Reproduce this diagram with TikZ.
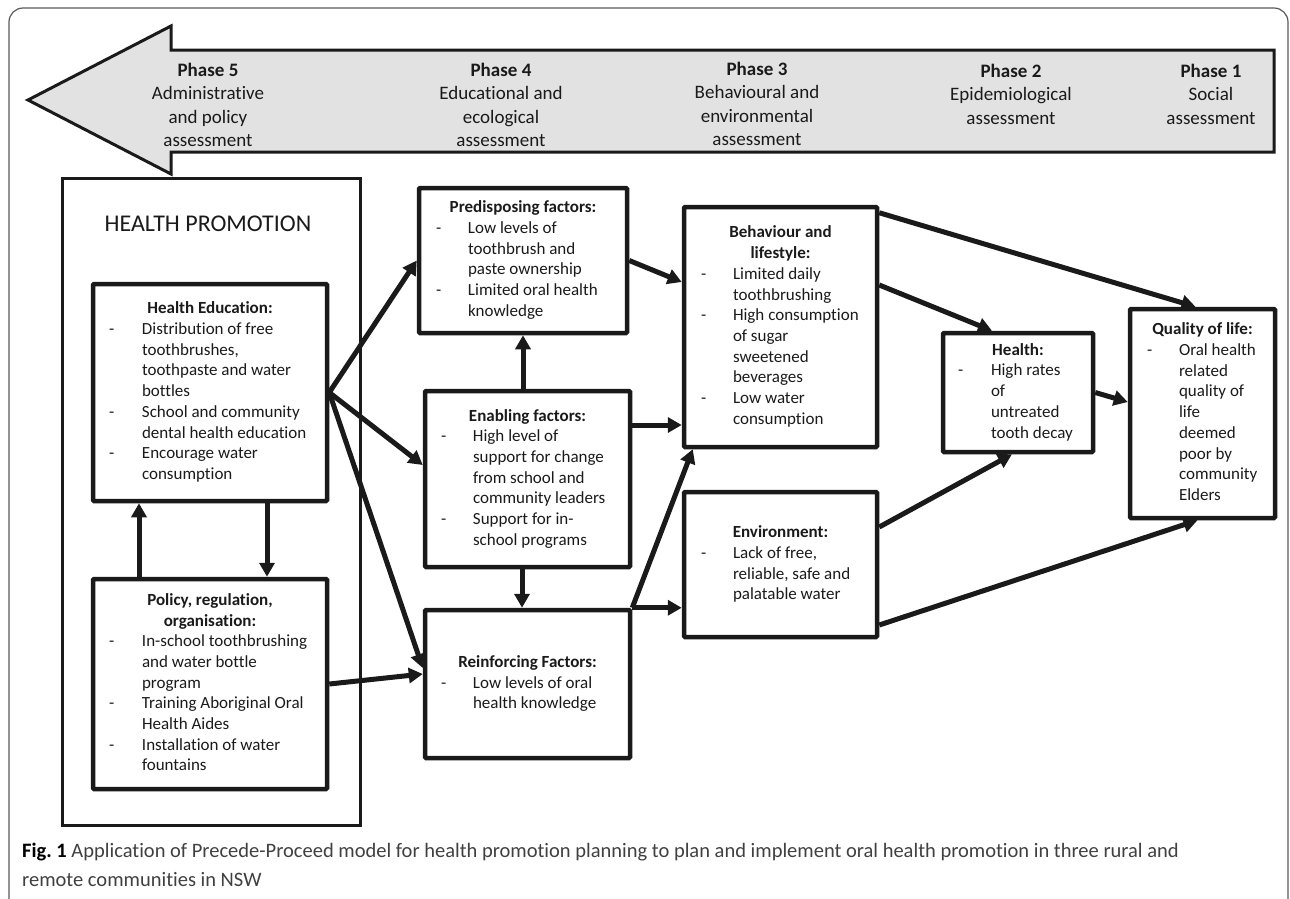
\documentclass[tikz,border=0pt]{standalone}
\usepackage{fontspec}
\setmainfont{Carlito}[Ligatures=NoCommon]
\usetikzlibrary{arrows.meta,calc}
\definecolor{arrfill}{RGB}{226,226,226}
\definecolor{ink}{RGB}{26,26,26}
\newcommand\bt[4]{\begin{tabular}{@{\hspace{#1}}p{#2}@{}p{\dimexpr#3-#1-#2\relax}@{}}#4\end{tabular}}
\begin{document}
\begin{tikzpicture}[x=1pt,y=-1pt,
  box/.style={draw=ink, line width=4.5pt, inner sep=0pt, rounded corners=1pt, text=ink, font=\fontsize{17}{20.7}\selectfont},
  conn/.style={draw=ink, line width=5pt, -{Triangle[length=14pt,width=15pt]}},
  phase/.style={anchor=base, inner sep=0pt, text=ink, font=\fontsize{19}{23.5}\selectfont},
]
\useasboundingbox (0,0) rectangle (1290,898);
% outer frame
\draw[line width=1.2pt, black!65, rounded corners=14pt] (9,8) rectangle (1288,912);
% phase arrow
\draw[line width=3pt, draw=ink, fill=arrfill, line join=miter]
  (28,100) -- (171,26) -- (171,50) -- (1274,50) -- (1274,152) -- (171,152) -- (171,174) -- cycle;
\node[phase] (p5) at (208,76) {\begin{tabular}[t]{@{}c@{}}\bfseries Phase 5\\Administrative\\and policy\\assessment\end{tabular}};
\node[phase] (p4) at (501,76) {\begin{tabular}[t]{@{}c@{}}\bfseries Phase 4\\Educational and\\ecological\\assessment\end{tabular}};
\node[phase] (p3) at (757,75) {\begin{tabular}[t]{@{}c@{}}\bfseries Phase 3\\Behavioural and\\environmental\\assessment\end{tabular}};
\node[phase] (p2) at (1011,77) {\begin{tabular}[t]{@{}c@{}}\bfseries Phase 2\\Epidemiological\\assessment\end{tabular}};
\node[phase] (p1) at (1211,77) {\begin{tabular}[t]{@{}c@{}}\bfseries Phase 1\\Social\\assessment\end{tabular}};
% health promotion container
\node[draw=ink, line width=3pt, inner sep=0pt, minimum width=298pt, minimum height=647pt] (hp) at (211,501.5) {};
\node[inner sep=0pt, text=ink, font=\fontsize{24}{29}\selectfont] (hpt) at (208,224) {HEALTH PROMOTION};
% boxes
\node[box, minimum width=234, minimum height=217] (he) at (210,392.5) {\bt{16pt}{33pt}{234pt}{%
\multicolumn{2}{@{}c@{}}{\bfseries Health Education:}\\
- & Distribution of free\\
& toothbrushes,\\
& toothpaste and water\\
& bottles\\
- & School and community\\
& dental health education\\
- & Encourage water\\
& consumption}};
\node[box, minimum width=234, minimum height=210] (po) at (210,684) {\bt{16pt}{33pt}{234pt}{%
\multicolumn{2}{@{}c@{}}{\bfseries Policy, regulation,}\\
\multicolumn{2}{@{}c@{}}{\bfseries organisation:}\\
- & In-school toothbrushing\\
& and water bottle\\
& program\\
- & Training Aboriginal Oral\\
& Health Aides\\
- & Installation of water\\
& fountains}};
\node[box, minimum width=208, minimum height=145] (pr) at (523,260.5) {\bt{17pt}{32pt}{208pt}{%
\multicolumn{2}{@{}c@{}}{\bfseries Predisposing factors:}\\
- & Low levels of\\
& toothbrush and\\
& paste ownership\\
- & Limited oral health\\
& knowledge}};
\node[box, minimum width=205, minimum height=176] (en) at (527.5,479) {\bt{16pt}{32pt}{205pt}{%
\multicolumn{2}{@{}c@{}}{\bfseries Enabling factors:}\\
- & High level of\\
& support for change\\
& from school and\\
& community leaders\\
- & Support for in-\\
& school programs}};
\node[box, minimum width=205, minimum height=148] (re) at (527.5,684) {\bt{16pt}{32pt}{205pt}{%
\multicolumn{2}{@{}c@{}}{\bfseries Reinforcing Factors:}\\
- & Low levels of oral\\
& health knowledge}};
\node[box, minimum width=193, minimum height=240] (be) at (780.5,327) {\bt{17pt}{32pt}{193pt}{%
\multicolumn{2}{@{}c@{}}{\bfseries Behaviour and}\\
\multicolumn{2}{@{}c@{}}{\bfseries lifestyle:}\\
- & Limited daily\\
& toothbrushing\\
- & High consumption\\
& of sugar\\
& sweetened\\
& beverages\\
- & Low water\\
& consumption}};
\node[box, minimum width=193, minimum height=145] (ev) at (780.5,564.5) {\bt{17pt}{32pt}{193pt}{%
\multicolumn{2}{@{}c@{}}{\bfseries Environment:}\\
- & Lack of free,\\
& reliable, safe and\\
& palatable water}};
\node[box, minimum width=150, minimum height=119] (hl) at (1018,392.5) {\bt{15pt}{33pt}{150pt}{%
\multicolumn{2}{@{}c@{}}{\bfseries Health:}\\
- & High rates\\
& of\\
& untreated\\
& tooth decay}};
\node[box, minimum width=145, minimum height=209] (ql) at (1202.5,413.5) {\bt{17pt}{32pt}{145pt}{%
\multicolumn{2}{@{}c@{}}{\bfseries Quality of life:}\\
- & Oral health\\
& related\\
& quality of\\
& life\\
& deemed\\
& poor by\\
& community\\
& Elders}};
% connectors
\draw[conn] (he.east) -- (pr.west);
\draw[conn] (he.east) -- ([yshift=14pt]en.west);
\draw[conn] (he.east) -- ([yshift=16pt]re.west);
\draw[conn] (po.east) -- ([yshift=10pt]re.west);
\draw[conn] ([xshift=-71pt]po.north) -- ([xshift=-71pt]he.south);
\draw[conn] ([xshift=57pt]he.south) -- ([xshift=57pt]po.north);
\draw[conn] ([xshift=-4.5pt]en.north) -- (pr.south);
\draw[conn] ([xshift=-5.5pt]en.south) -- ([xshift=-5.5pt]re.north);
\draw[conn] (pr.east) -- ([yshift=45pt]be.west);
\draw[conn] ([yshift=54pt]en.east) -- ([yshift=54pt]en.east -| be.west);
\draw[conn] (re.north east) -- ([xshift=11pt]be.south west);
\draw[conn] (re.north east) -- (re.north east -| ev.west);
\draw[conn] ([yshift=-8pt]be.north east) -- ([xshift=-7pt]ql.north);
\draw[conn] ([yshift=42pt]be.east) -- ([xshift=-26pt]hl.north);
\draw[conn] (hl.east) -- ([yshift=11.5pt]ql.west);
\draw[conn] ([yshift=37.5pt]ev.east) -- ([xshift=-6pt]hl.south);
\draw[conn] ([yshift=-60.5pt]ev.east) -- ([xshift=-5pt]ql.south);
% caption
\node[anchor=base west, inner sep=0pt, text=black!75, font=\fontsize{20.5}{29}\selectfont] (cap) at (22,857)
 {\begin{tabular}[t]{@{}l@{}}{\bfseries\color{black}Fig.\ 1} Application of Precede-Proceed model for health promotion planning to plan and implement oral health promotion in three rural and\\remote communities in NSW\end{tabular}};
\end{tikzpicture}
\end{document}
